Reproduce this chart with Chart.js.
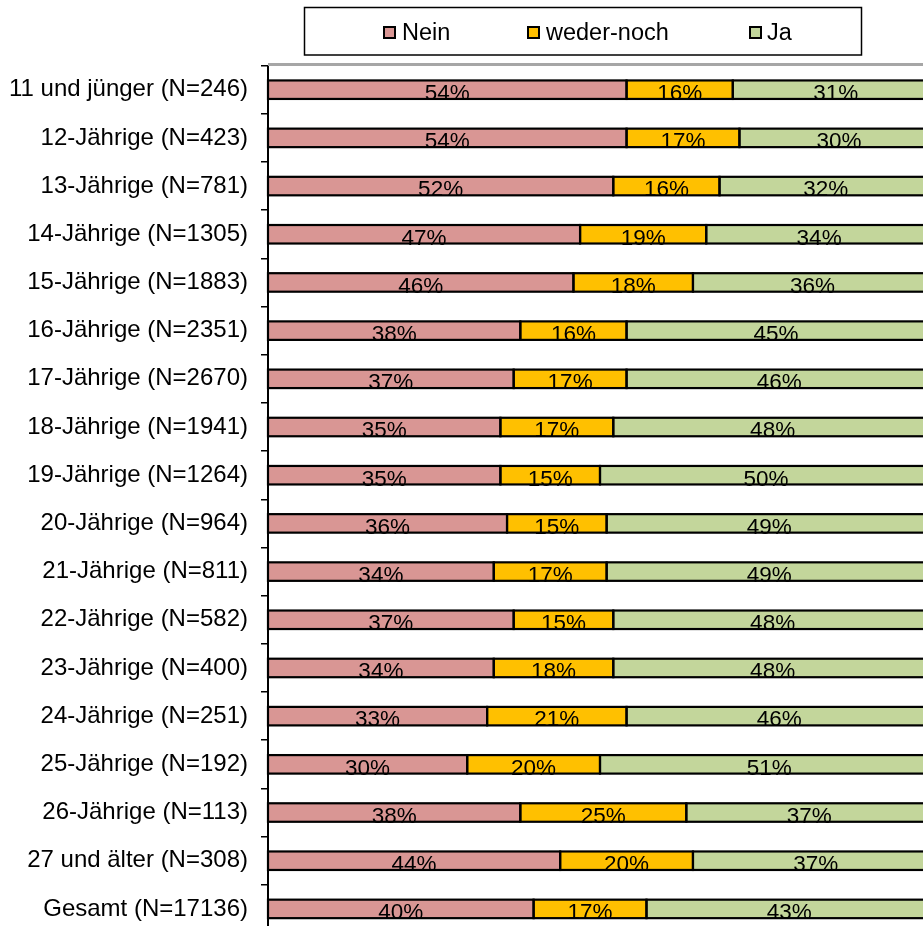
<!DOCTYPE html>
<html>
<head>
<meta charset="utf-8">
<script src="https://cdn.jsdelivr.net/npm/chart.js@4.4.1/dist/chart.umd.min.js"></script>
<style>
  html, body { margin: 0; padding: 0; background: #fff; overflow: hidden; }
  #wrap { position: absolute; left: 0; top: 0; width: 940px; height: 940px; }
</style>
</head>
<body>
<div id="wrap"><canvas id="c" width="940" height="940"></canvas></div>
<script>
const categories = [
  "11 und jünger (N=246)", "12-Jährige (N=423)", "13-Jährige (N=781)", "14-Jährige (N=1305)",
  "15-Jährige (N=1883)", "16-Jährige (N=2351)", "17-Jährige (N=2670)", "18-Jährige (N=1941)",
  "19-Jährige (N=1264)", "20-Jährige (N=964)", "21-Jährige (N=811)", "22-Jährige (N=582)",
  "23-Jährige (N=400)", "24-Jährige (N=251)", "25-Jährige (N=192)", "26-Jährige (N=113)",
  "27 und älter (N=308)", "Gesamt (N=17136)"
];
const nein      = [54, 54, 52, 47, 46, 38, 37, 35, 35, 36, 34, 37, 34, 33, 30, 38, 44, 40];
const wederNoch = [16, 17, 16, 19, 18, 16, 17, 17, 15, 15, 17, 15, 18, 21, 20, 25, 20, 17];
const ja        = [31, 30, 32, 34, 36, 45, 46, 48, 50, 49, 49, 48, 48, 46, 51, 37, 37, 43];
const seriesNames = ["Nein", "weder-noch", "Ja"];
const seriesColors = ["#D99694", "#FFC000", "#C3D69B"];

const FONT = '"Liberation Sans", Arial, sans-serif';

const overlay = {
  id: 'overlay',
  afterDatasetsDraw(chart) {
    const ctx = chart.ctx, ca = chart.chartArea;
    ctx.save();
    // grey plot-area top border
    ctx.fillStyle = '#a6a6a6';
    ctx.fillRect(ca.left, ca.top - 2.6, chart.width - ca.left, 3);
    // data labels
    ctx.font = '22.5px ' + FONT;
    ctx.fillStyle = '#000';
    ctx.textAlign = 'center';
    ctx.textBaseline = 'alphabetic';
    chart.data.datasets.forEach((ds, di) => {
      chart.getDatasetMeta(di).data.forEach((el, i) => {
        const cx = (el.base + el.x) / 2;
        ctx.fillText(ds.data[i] + '%', cx, el.y + 10.3);
      });
    });
    // bar outlines (drawn over text like the original)
    ctx.strokeStyle = '#000';
    ctx.lineWidth = 2.2;
    chart.data.datasets.forEach((ds, di) => {
      chart.getDatasetMeta(di).data.forEach((el) => {
        const h = el.height;
        ctx.strokeRect(el.base, el.y - h / 2, el.x - el.base, h);
      });
    });
    ctx.restore();
  },
  afterDraw(chart) {
    const ctx = chart.ctx;
    ctx.save();
    // legend box
    ctx.strokeStyle = '#000';
    ctx.lineWidth = 1.5;
    ctx.strokeRect(304.5, 7.5, 557, 47.5);
    const sq = [383, 527, 749];
    const tx = [402, 546, 767];
    ctx.font = '23.5px ' + FONT;
    ctx.textAlign = 'left';
    ctx.textBaseline = 'alphabetic';
    chart.data.datasets.forEach((ds, i) => {
      ctx.fillStyle = ds.backgroundColor;
      ctx.fillRect(sq[i] + 1, 27, 11, 11);
      ctx.lineWidth = 2;
      ctx.strokeStyle = '#000';
      ctx.strokeRect(sq[i] + 1, 27, 11, 11);
      ctx.fillStyle = '#000';
      ctx.fillText(ds.label, tx[i], 40);
    });
    ctx.restore();
  }
};

new Chart(document.getElementById('c'), {
  type: 'bar',
  data: {
    labels: categories,
    datasets: [
      { label: seriesNames[0], data: nein, backgroundColor: seriesColors[0] },
      { label: seriesNames[1], data: wederNoch, backgroundColor: seriesColors[1] },
      { label: seriesNames[2], data: ja, backgroundColor: seriesColors[2] }
    ]
  },
  options: {
    indexAxis: 'y',
    responsive: false,
    animation: false,
    devicePixelRatio: 1,
    layout: { padding: { top: 65.6, left: 0, right: 8, bottom: 7 } },
    datasets: { bar: { barThickness: 18.5, borderWidth: 0 } },
    plugins: { legend: { display: false }, tooltip: { enabled: false } },
    scales: {
      x: { display: false, stacked: true, min: 0, max: 100 },
      y: {
        stacked: true,
        afterFit(scale) { scale.width = 268; scale.paddingTop = 0; scale.paddingBottom = 0; },
        grid: { offset: true, drawOnChartArea: false, drawTicks: true, tickLength: 7, color: '#000', lineWidth: 1.5 },
        border: { display: true, color: '#000', width: 2 },
        ticks: { color: '#000', padding: 13, font: { family: FONT, size: 24 } }
      }
    }
  },
  plugins: [overlay]
});
</script>
</body>
</html>
